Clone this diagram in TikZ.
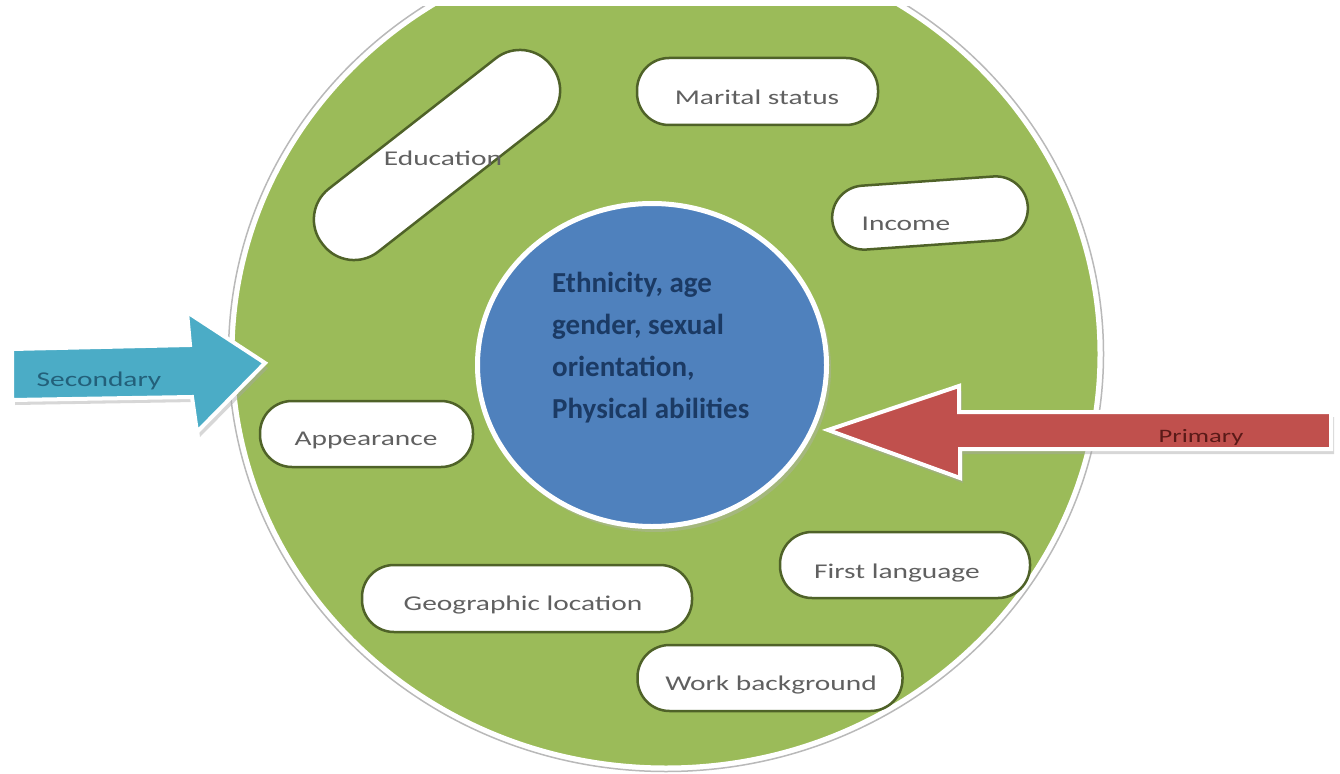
\documentclass[tikz,border=0pt]{standalone}
\usepackage{fontspec}
\setmainfont{Carlito}
\newfontfamily\pillfont[FakeStretch=1.4]{Carlito}
\usetikzlibrary{shapes.geometric}
\definecolor{ggreen}{HTML}{9BBB59}
\definecolor{gblue}{HTML}{4F81BD}
\definecolor{gteal}{HTML}{4BACC6}
\definecolor{gred}{HTML}{C0504D}
\definecolor{pillline}{HTML}{4F6228}
\definecolor{coretext}{HTML}{1B3A64}
\definecolor{pilltext}{HTML}{606060}
\definecolor{sectext}{HTML}{23607A}
\definecolor{primtext}{HTML}{5A1A18}
\begin{document}
\begin{tikzpicture}[x=1pt,y=-1pt,
  pill/.style={draw=pillline, fill=white, line width=2.5pt, rectangle, rounded corners=32pt, inner sep=0pt},
  pilltxt/.style={font=\pillfont\fontsize{21}{25}\selectfont, text=pilltext, inner sep=0pt, anchor=base},
  coretxt/.style={font=\bfseries\fontsize{29}{35}\selectfont, text=coretext, inner sep=0pt, anchor=base west},
  arrowshadow/.style={fill=black!35, opacity=0.45},
  blockarrow/.style={draw=white, line width=4pt, line join=miter},
]
\useasboundingbox (0,0) rectangle (1340,773);
% outer green disc, clipped at the top
\begin{scope}
  \clip (0,7) rectangle (1340,773);
  \node[ellipse, draw=gray!55, line width=1.5pt, minimum width=875, minimum height=835, inner sep=0pt] (rim) at (666,354) {};
  \node[ellipse, fill=ggreen, draw=white, line width=3pt, minimum width=866, minimum height=826, inner sep=0pt] (outer) at (666,354) {};
\end{scope}
% inner blue disc
\node[ellipse, fill=black!30, opacity=0.4, minimum width=352, minimum height=326, inner sep=0pt] (coreshadow) at (655,369) {};
\node[ellipse, fill=gblue, draw=white, line width=5pt, minimum width=349, minimum height=323, inner sep=0pt] (core) at (652,365) {};
\node[coretxt] (c1) at (552,292) {Ethnicity, age};
\node[coretxt] (c2) at (552,334) {gender, sexual};
\node[coretxt] (c3) at (552,376) {orientation,};
\node[coretxt] (c4) at (552,418) {Physical abilities};
% pills
\node[pill, minimum width=290, minimum height=80, rounded corners=39pt, rotate=38] (edu) at (437,155) {};
\node[pilltxt] (edut) at (443,165) {Education};
\node[pill, minimum width=241, minimum height=67] (mar) at (757.5,91.5) {};
\node[pilltxt] (mart) at (757,105) {Marital status};
\node[pill, minimum width=196, minimum height=64, rotate=4] (inc) at (930,213) {};
\node[pilltxt] (inct) at (906,230) {Income};
\node[pill, minimum width=213, minimum height=66] (app) at (366.5,434) {};
\node[pilltxt] (appt) at (366,445) {Appearance};
\node[pill, minimum width=250, minimum height=66] (lang) at (905,565) {};
\node[pilltxt] (langt) at (897,578) {First language};
\node[pill, minimum width=330, minimum height=67] (geo) at (527,598.5) {};
\node[pilltxt] (geot) at (523,610) {Geographic location};
\node[pill, minimum width=265, minimum height=66] (work) at (770,678) {};
\node[pilltxt] (workt) at (771,690) {Work background};
% secondary arrow
\begin{scope}[shift={(3,5)}]
  \fill[arrowshadow] (12,349) -- (190,345) -- (187,312) -- (265,363) -- (197,432) -- (192,397) -- (12,400) -- cycle;
\end{scope}
\filldraw[blockarrow, fill=gteal] (12,349) -- (190,345) -- (187,312) -- (265,363) -- (197,432) -- (192,397) -- (12,400) -- cycle;
\node[font=\pillfont\fontsize{21}{25}\selectfont, text=sectext, inner sep=0pt, anchor=base] (sec) at (99,386) {Secondary};
% primary arrow
\begin{scope}[shift={(3,5)}]
  \fill[arrowshadow] (1331,412) -- (959,412) -- (959,386) -- (828,430) -- (960,478) -- (960,449) -- (1331,449) -- cycle;
\end{scope}
\filldraw[blockarrow, fill=gred] (1331,412) -- (959,412) -- (959,386) -- (828,430) -- (960,478) -- (960,449) -- (1331,449) -- cycle;
\node[font=\pillfont\fontsize{19}{23}\selectfont, text=primtext, inner sep=0pt, anchor=base] (prim) at (1201,442) {Primary};
\end{tikzpicture}
\end{document}
